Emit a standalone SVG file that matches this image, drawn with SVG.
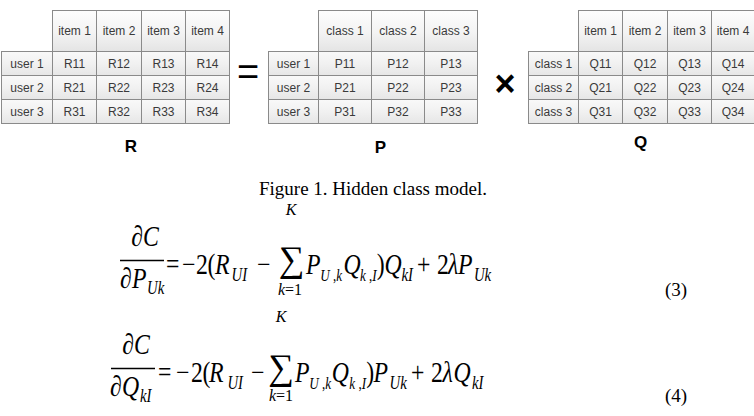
<svg xmlns="http://www.w3.org/2000/svg" width="754" height="416" viewBox="0 0 754 416">
<defs>
<linearGradient id="hg" x1="0" y1="0" x2="0" y2="1">
<stop offset="0" stop-color="#fdfdfd"/>
<stop offset="0.55" stop-color="#f3f3f3"/>
<stop offset="1" stop-color="#e4e4e4"/>
</linearGradient>
<linearGradient id="dg" x1="0" y1="0" x2="0" y2="1">
<stop offset="0" stop-color="#f9f9f9"/>
<stop offset="0.5" stop-color="#f1f1f1"/>
<stop offset="1" stop-color="#e6e6e6"/>
</linearGradient>
</defs>
<style>
.h{fill:url(#hg);stroke:#8a8a8a;stroke-width:1}
.d{fill:url(#dg);stroke:#8a8a8a;stroke-width:1}
.t{font-family:"Liberation Sans",Arial,sans-serif;font-size:12px;fill:#3a3a3a;text-anchor:middle}
.lab{font-family:"Liberation Sans",Arial,sans-serif;font-size:17px;font-weight:bold;fill:#000;text-anchor:middle}
.op{font-family:"Liberation Sans",Arial,sans-serif;fill:#000;text-anchor:middle}
.m{font-family:"Liberation Serif","Times New Roman",serif;font-size:29px;font-style:italic;fill:#000}
.r{font-family:"Liberation Serif","Times New Roman",serif;font-size:29px;fill:#000}
.s{font-family:"Liberation Serif","Times New Roman",serif;font-size:18px;font-style:italic;fill:#000}
.s2{font-family:"Liberation Serif","Times New Roman",serif;font-size:16px;font-style:italic;fill:#000}
.lim{font-family:"Liberation Serif","Times New Roman",serif;font-size:16px;font-style:italic;fill:#000;text-anchor:middle}
.sr{font-style:normal}
.sum{font-family:"Liberation Serif","Times New Roman",serif;font-size:36px;fill:#000;text-anchor:middle}
.cap{font-family:"Liberation Serif","Times New Roman",serif;font-size:19px;fill:#000;text-anchor:middle}
.num{font-family:"Liberation Serif","Times New Roman",serif;font-size:19px;fill:#000}
.bar{stroke:#000;stroke-width:1.3}
</style>
<rect width="754" height="416" fill="#fff"/>

<g id="matrixR">
<rect class="h" x="52.5" y="10.5" width="44" height="41"/>
<rect class="h" x="96.5" y="10.5" width="45" height="41"/>
<rect class="h" x="141.5" y="10.5" width="44" height="41"/>
<rect class="h" x="185.5" y="10.5" width="44" height="41"/>
<text class="t" x="74.5" y="35">item 1</text>
<text class="t" x="119" y="35">item 2</text>
<text class="t" x="163.5" y="35">item 3</text>
<text class="t" x="207.5" y="35">item 4</text>
<rect class="d" x="1.5" y="51.5" width="51" height="24"/>
<rect class="d" x="1.5" y="75.5" width="51" height="24"/>
<rect class="d" x="1.5" y="99.5" width="51" height="24"/>
<text class="t" x="27" y="67.5">user 1</text>
<text class="t" x="27" y="91.5">user 2</text>
<text class="t" x="27" y="115.5">user 3</text>
<rect class="d" x="52.5" y="51.5" width="44" height="24"/>
<rect class="d" x="96.5" y="51.5" width="45" height="24"/>
<rect class="d" x="141.5" y="51.5" width="44" height="24"/>
<rect class="d" x="185.5" y="51.5" width="44" height="24"/>
<rect class="d" x="52.5" y="75.5" width="44" height="24"/>
<rect class="d" x="96.5" y="75.5" width="45" height="24"/>
<rect class="d" x="141.5" y="75.5" width="44" height="24"/>
<rect class="d" x="185.5" y="75.5" width="44" height="24"/>
<rect class="d" x="52.5" y="99.5" width="44" height="24"/>
<rect class="d" x="96.5" y="99.5" width="45" height="24"/>
<rect class="d" x="141.5" y="99.5" width="44" height="24"/>
<rect class="d" x="185.5" y="99.5" width="44" height="24"/>
<text class="t" x="74.5" y="67.5">R11</text>
<text class="t" x="119" y="67.5">R12</text>
<text class="t" x="163.5" y="67.5">R13</text>
<text class="t" x="207.5" y="67.5">R14</text>
<text class="t" x="74.5" y="91.5">R21</text>
<text class="t" x="119" y="91.5">R22</text>
<text class="t" x="163.5" y="91.5">R23</text>
<text class="t" x="207.5" y="91.5">R24</text>
<text class="t" x="74.5" y="115.5">R31</text>
<text class="t" x="119" y="115.5">R32</text>
<text class="t" x="163.5" y="115.5">R33</text>
<text class="t" x="207.5" y="115.5">R34</text>
<text class="lab" x="131" y="152">R</text>
</g>

<g id="equals">
<text class="op" x="248" y="85" font-size="38">=</text>
</g>

<g id="matrixP">
<rect class="h" x="318.5" y="10.5" width="53" height="41"/>
<rect class="h" x="371.5" y="10.5" width="53" height="41"/>
<rect class="h" x="424.5" y="10.5" width="53" height="41"/>
<text class="t" x="345" y="35">class 1</text>
<text class="t" x="398" y="35">class 2</text>
<text class="t" x="451" y="35">class 3</text>
<rect class="d" x="268.5" y="51.5" width="50" height="24"/>
<rect class="d" x="268.5" y="75.5" width="50" height="24"/>
<rect class="d" x="268.5" y="99.5" width="50" height="24"/>
<text class="t" x="293.5" y="67.5">user 1</text>
<text class="t" x="293.5" y="91.5">user 2</text>
<text class="t" x="293.5" y="115.5">user 3</text>
<rect class="d" x="318.5" y="51.5" width="53" height="24"/>
<rect class="d" x="371.5" y="51.5" width="53" height="24"/>
<rect class="d" x="424.5" y="51.5" width="53" height="24"/>
<rect class="d" x="318.5" y="75.5" width="53" height="24"/>
<rect class="d" x="371.5" y="75.5" width="53" height="24"/>
<rect class="d" x="424.5" y="75.5" width="53" height="24"/>
<rect class="d" x="318.5" y="99.5" width="53" height="24"/>
<rect class="d" x="371.5" y="99.5" width="53" height="24"/>
<rect class="d" x="424.5" y="99.5" width="53" height="24"/>
<text class="t" x="345" y="67.5">P11</text>
<text class="t" x="398" y="67.5">P12</text>
<text class="t" x="451" y="67.5">P13</text>
<text class="t" x="345" y="91.5">P21</text>
<text class="t" x="398" y="91.5">P22</text>
<text class="t" x="451" y="91.5">P23</text>
<text class="t" x="345" y="115.5">P31</text>
<text class="t" x="398" y="115.5">P32</text>
<text class="t" x="451" y="115.5">P33</text>
<text class="lab" x="380.5" y="153">P</text>
</g>

<g id="times">
<text class="op" x="505" y="96" font-size="36" font-weight="bold">×</text>
</g>

<g id="matrixQ">
<rect class="h" x="578.5" y="10.5" width="44" height="41"/>
<rect class="h" x="622.5" y="10.5" width="45" height="41"/>
<rect class="h" x="667.5" y="10.5" width="44" height="41"/>
<rect class="h" x="711.5" y="10.5" width="45" height="41"/>
<text class="t" x="600.5" y="35">item 1</text>
<text class="t" x="645" y="35">item 2</text>
<text class="t" x="689.5" y="35">item 3</text>
<text class="t" x="733" y="35">item 4</text>
<rect class="d" x="528.5" y="51.5" width="50" height="24"/>
<rect class="d" x="528.5" y="75.5" width="50" height="24"/>
<rect class="d" x="528.5" y="99.5" width="50" height="24"/>
<text class="t" x="553.5" y="67.5">class 1</text>
<text class="t" x="553.5" y="91.5">class 2</text>
<text class="t" x="553.5" y="115.5">class 3</text>
<rect class="d" x="578.5" y="51.5" width="44" height="24"/>
<rect class="d" x="622.5" y="51.5" width="45" height="24"/>
<rect class="d" x="667.5" y="51.5" width="44" height="24"/>
<rect class="d" x="711.5" y="51.5" width="45" height="24"/>
<rect class="d" x="578.5" y="75.5" width="44" height="24"/>
<rect class="d" x="622.5" y="75.5" width="45" height="24"/>
<rect class="d" x="667.5" y="75.5" width="44" height="24"/>
<rect class="d" x="711.5" y="75.5" width="45" height="24"/>
<rect class="d" x="578.5" y="99.5" width="44" height="24"/>
<rect class="d" x="622.5" y="99.5" width="45" height="24"/>
<rect class="d" x="667.5" y="99.5" width="44" height="24"/>
<rect class="d" x="711.5" y="99.5" width="45" height="24"/>
<text class="t" x="600.5" y="67.5">Q11</text>
<text class="t" x="645" y="67.5">Q12</text>
<text class="t" x="689.5" y="67.5">Q13</text>
<text class="t" x="733" y="67.5">Q14</text>
<text class="t" x="600.5" y="91.5">Q21</text>
<text class="t" x="645" y="91.5">Q22</text>
<text class="t" x="689.5" y="91.5">Q23</text>
<text class="t" x="733" y="91.5">Q24</text>
<text class="t" x="600.5" y="115.5">Q31</text>
<text class="t" x="645" y="115.5">Q32</text>
<text class="t" x="689.5" y="115.5">Q33</text>
<text class="t" x="733" y="115.5">Q34</text>
<text class="lab" x="640.5" y="148">Q</text>
</g>

<g id="caption">
<text class="cap" x="373" y="195">Figure 1. Hidden class model.</text>
</g>

<g id="equation3">
<line class="bar" x1="120" y1="260.5" x2="164" y2="260.5"/>
<text class="sum" x="291.5" y="271">∑</text>
<text class="lim" x="291" y="215">K</text>
<text class="lim" x="290" y="295">k<tspan class="sr">=1</tspan></text>
<g transform="matrix(0.82 0 0 1 0 0)">
<text class="r" x="176.8" y="246" text-anchor="middle">∂<tspan font-style="italic">C</tspan></text>
<text class="r" x="146.3" y="288">∂</text>
<text class="m" x="161" y="288">P</text>
<text class="s" x="179.3" y="294">Uk</text>
<text class="r" x="202.4" y="274">=</text>
<text class="r" x="222" y="274">−</text>
<text class="r" x="239" y="274">2</text>
<text class="r" x="253" y="274">(</text>
<text class="m" x="262.2" y="274">R</text>
<text class="s" x="282.3" y="281">UI</text>
<text class="r" x="313.4" y="274">−</text>
<text class="m" x="373.2" y="274">P</text>
<text class="s2" x="390.5" y="281">U<tspan class="sr"> ,</tspan>k</text>
<text class="m" x="419" y="274">Q</text>
<text class="s2" x="439" y="281">k<tspan class="sr"> ,</tspan>I</text>
<text class="r" x="459.5" y="274">)</text>
<text class="m" x="469" y="274">Q</text>
<text class="s" x="489.5" y="281">kI</text>
<text class="r" x="508.5" y="274">+</text>
<text class="r" x="532.9" y="274">2</text>
<text class="m" x="546.3" y="274">λ</text>
<text class="m" x="558.5" y="274">P</text>
<text class="s" x="578" y="281">Uk</text>
</g>
<text class="num" x="665" y="296">(3)</text>
</g>

<g id="equation4">
<line class="bar" x1="111" y1="368.5" x2="155" y2="368.5"/>
<text class="sum" x="281" y="379">∑</text>
<text class="lim" x="281" y="322">K</text>
<text class="lim" x="281" y="401">k<tspan class="sr">=1</tspan></text>
<g transform="matrix(0.82 0 0 1 0 0)">
<text class="r" x="165.9" y="354" text-anchor="middle">∂<tspan font-style="italic">C</tspan></text>
<text class="r" x="134.1" y="396">∂</text>
<text class="m" x="148.8" y="396">Q</text>
<text class="s" x="170.7" y="402">kI</text>
<text class="r" x="192.7" y="382">=</text>
<text class="r" x="214.6" y="382">−</text>
<text class="r" x="232.9" y="382">2</text>
<text class="r" x="247" y="382">(</text>
<text class="m" x="254.9" y="382">R</text>
<text class="s" x="277.4" y="389">UI</text>
<text class="r" x="306.1" y="382">−</text>
<text class="m" x="359.8" y="382">P</text>
<text class="s2" x="377" y="389">U<tspan class="sr"> ,</tspan>k</text>
<text class="m" x="404.5" y="382">Q</text>
<text class="s2" x="426" y="389">k<tspan class="sr"> ,</tspan>I</text>
<text class="r" x="446.5" y="382">)</text>
<text class="m" x="455.5" y="382">P</text>
<text class="s" x="475" y="389">Uk</text>
<text class="r" x="501.2" y="382">+</text>
<text class="r" x="525.6" y="382">2</text>
<text class="m" x="539.6" y="382">λ</text>
<text class="m" x="553" y="382">Q</text>
<text class="s" x="575.6" y="389">kI</text>
</g>
<text class="num" x="665" y="402">(4)</text>
</g>
</svg>
